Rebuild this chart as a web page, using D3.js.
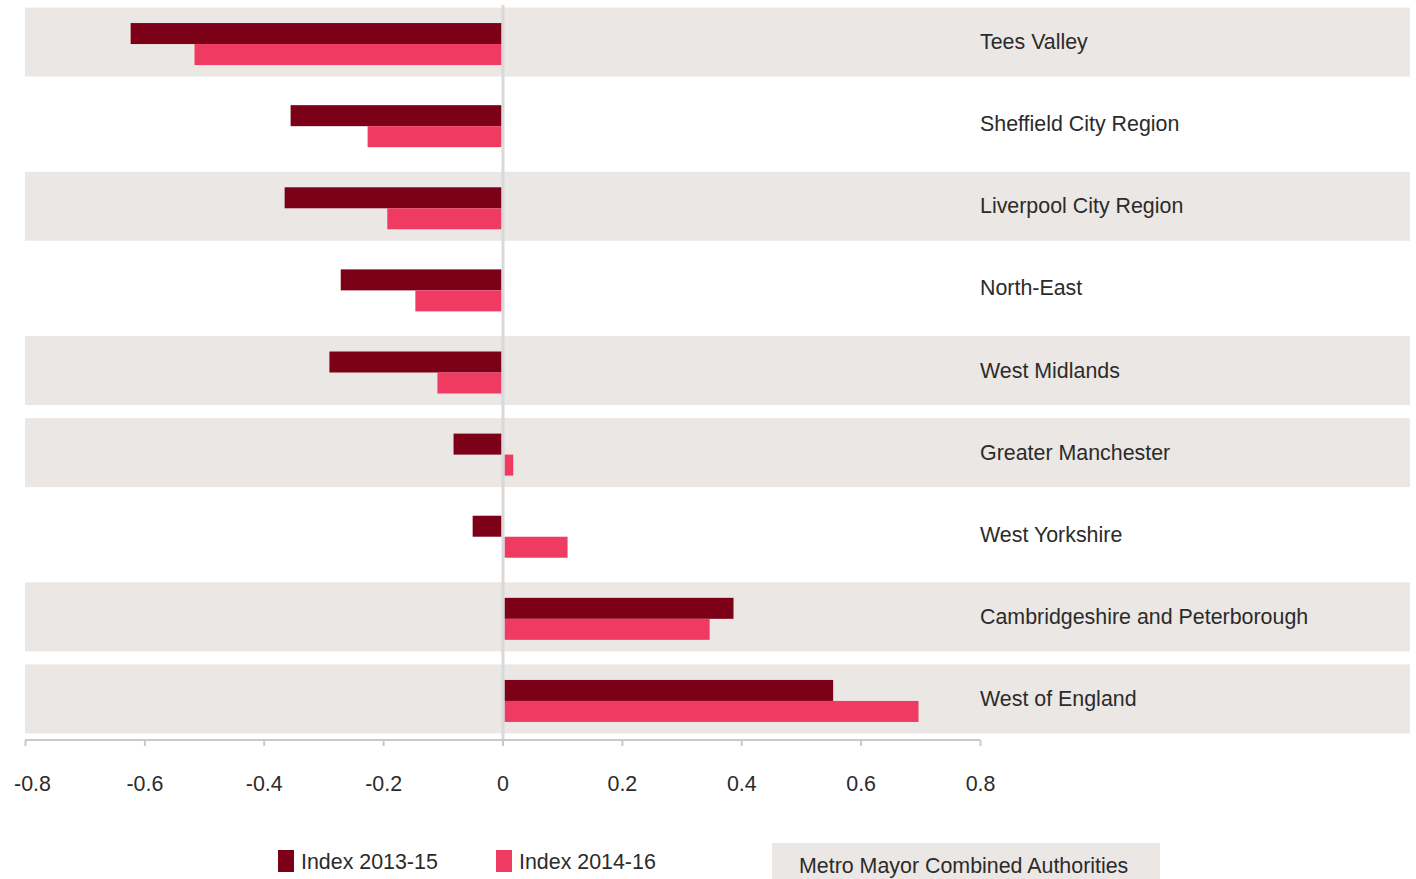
<!DOCTYPE html>
<html><head><meta charset="utf-8">
<script src="https://cdn.jsdelivr.net/npm/d3@7"></script>
<style>body{margin:0;background:#fff}svg{display:block}text{font-family:"Liberation Sans",Arial,Helvetica,sans-serif;fill:#2b2b2b}</style>
</head><body><svg id="c" width="1416" height="879"></svg>
<script>
const categories = ["Tees Valley","Sheffield City Region","Liverpool City Region","North-East","West Midlands","Greater Manchester","West Yorkshire","Cambridgeshire and Peterborough","West of England"];
const metroMayor = [true,false,true,false,true,true,false,true,true];
const index2013_15 = [-0.623,-0.355,-0.365,-0.271,-0.290,-0.082,-0.050,0.387,0.554];
const index2014_16 = [-0.516,-0.226,-0.193,-0.146,-0.109,0.018,0.109,0.347,0.697];
const tickValues = [-0.8,-0.6,-0.4,-0.2,0,0.2,0.4,0.6,0.8];
const tickLabels = ["-0.8","-0.6","-0.4","-0.2","0","0.2","0.4","0.6","0.8"];
const seriesNames = ["Index 2013-15","Index 2014-16"];
const colors = ["#7d0019","#ef3a62"];
const FS = 21.4;

const svg = d3.select("#c");
const x = d3.scaleLinear().domain([-0.8,0.8]).range([25,980]);
const y = d3.scaleBand().domain(categories).range([1,740]).paddingInner(0.16).paddingOuter(0.08);
const bandFull = y.bandwidth();

// background bands
svg.append("g").selectAll("rect").data(categories.filter((c,i)=>metroMayor[i])).join("rect")
  .attr("x",25).attr("width",1410-25)
  .attr("y",d=>y(d)).attr("height",bandFull).attr("fill","#ebe7e4");

const barH = 21;
const series = [index2013_15,index2014_16];
series.forEach((vals,si)=>{
  svg.append("g").selectAll("rect").data(categories).join("rect")
    .attr("x",(d,i)=> vals[i]<0 ? x(vals[i]) : x(0)+2)
    .attr("width",(d,i)=> vals[i]<0 ? x(0)-1-x(vals[i]) : x(vals[i])-x(0)-2)
    .attr("y",d=>y(d)+bandFull/2+2-barH+si*barH)
    .attr("height",barH)
    .attr("fill",colors[si]);
});

// zero line
svg.append("line").attr("x1",x(0)+0.5).attr("x2",x(0)+0.5).attr("y1",5).attr("y2",740)
  .attr("stroke","#d9d9d9").attr("stroke-width",3);

// labels
svg.append("g").selectAll("text").data(categories).join("text")
  .attr("x",980).attr("y",d=>y(d)+bandFull/2+7).attr("font-size",FS).text(d=>d);

// axis
const axis = d3.axisBottom(x).tickValues(tickValues).tickFormat((d,i)=>tickLabels[i]).tickSize(6).tickPadding(30);
const ag = svg.append("g").attr("transform","translate(0,740)").call(axis);
ag.select(".domain").attr("stroke","#cdc8c2").attr("stroke-width",2).attr("d","M25,0H980");
ag.selectAll(".tick line").attr("stroke","#cdc8c2").attr("stroke-width",2);
ag.selectAll(".tick text").attr("font-size",FS).attr("fill","#2b2b2b").attr("font-family","Liberation Sans, Arial, sans-serif")
  .attr("dx",(d,i)=> i===0 ? 7 : 0);

// legend
const lg = svg.append("g");
const legX = [278,496];
seriesNames.forEach((n,i)=>{
  lg.append("rect").attr("x",legX[i]).attr("y",850).attr("width",16).attr("height",22).attr("fill",colors[i]);
  lg.append("text").attr("x",legX[i]+23).attr("y",869).attr("font-size",FS).text(n);
});
lg.append("rect").attr("x",772).attr("y",843).attr("width",388).attr("height",40).attr("fill","#ebe7e4");
lg.append("text").attr("x",799).attr("y",873).attr("font-size",FS).text("Metro Mayor Combined Authorities");
</script></body></html>
